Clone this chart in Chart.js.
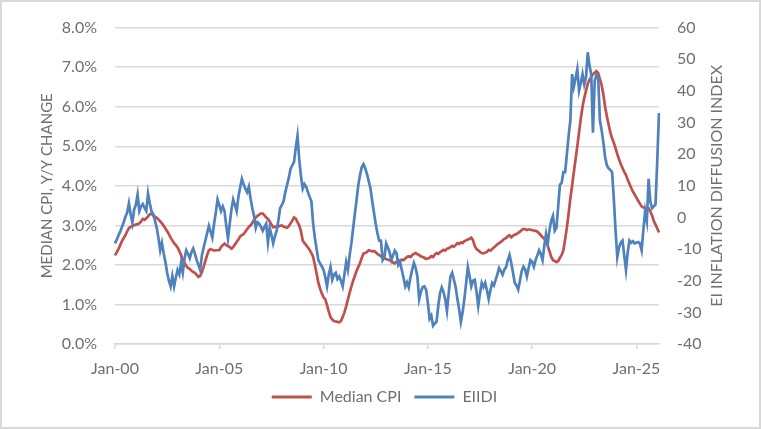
<!DOCTYPE html>
<html>
<head>
<meta charset="utf-8">
<script src="https://cdn.jsdelivr.net/npm/chart.js@4/dist/chart.umd.min.js"></script>
<style>
  html, body { margin: 0; padding: 0; background: #fff; }
  #wrap { position: relative; width: 761px; height: 429px; }
  canvas { display: block; }
</style>
</head>
<body>
<div id="wrap"><canvas id="c" width="761" height="429"></canvas></div>
<script>
// ---- Data (monthly, Jan 2000 – Feb 2026) ----
const years = [];
for (let y = 2000; y <= 2026; y++) years.push(y);
const monthNames = ["Jan","Feb","Mar","Apr","May","Jun","Jul","Aug","Sep","Oct","Nov","Dec"];

// Median CPI, Y/Y change (%)
const medianCPI = [
  2.24,2.32,2.40,2.50,2.60,2.68,2.75,2.85,2.93,2.96,2.98,3.00, // 2000
  3.02,3.03,3.05,3.10,3.16,3.14,3.18,3.22,3.28,3.30,3.25,3.22, // 2001
  3.19,3.15,3.10,3.05,2.99,2.92,2.85,2.78,2.69,2.62,2.55,2.50, // 2002
  2.44,2.35,2.25,2.12,2.05,1.98,1.92,1.90,1.85,1.82,1.80,1.75, // 2003
  1.70,1.72,1.82,1.95,2.10,2.25,2.37,2.40,2.38,2.36,2.37,2.37, // 2004
  2.37,2.45,2.50,2.54,2.50,2.48,2.45,2.41,2.45,2.52,2.58,2.64, // 2005
  2.72,2.75,2.78,2.84,2.90,2.96,3.00,3.06,3.14,3.20,3.24,3.27, // 2006
  3.30,3.30,3.25,3.20,3.16,3.10,3.02,2.95,2.96,2.98,2.97,2.99, // 2007
  3.00,2.97,2.95,2.94,2.98,3.05,3.12,3.20,3.17,3.08,3.00,2.85, // 2008
  2.62,2.55,2.50,2.44,2.38,2.30,2.20,2.00,1.78,1.55,1.40,1.28, // 2009
  1.18,1.13,0.98,0.82,0.68,0.62,0.58,0.57,0.56,0.55,0.58,0.68, // 2010
  0.80,0.95,1.12,1.30,1.45,1.60,1.72,1.85,1.95,2.05,2.18,2.29, // 2011
  2.30,2.33,2.37,2.36,2.34,2.35,2.32,2.28,2.25,2.22,2.18,2.16, // 2012
  2.15,2.13,2.12,2.10,2.06,2.04,2.08,2.12,2.10,2.13,2.12,2.16, // 2013
  2.20,2.22,2.20,2.25,2.28,2.30,2.27,2.25,2.22,2.20,2.18,2.15, // 2014
  2.16,2.18,2.22,2.20,2.26,2.30,2.28,2.32,2.35,2.38,2.36,2.41, // 2015
  2.42,2.45,2.48,2.46,2.50,2.55,2.53,2.57,2.55,2.60,2.62,2.64, // 2016
  2.66,2.69,2.62,2.48,2.40,2.37,2.33,2.30,2.29,2.31,2.33,2.38, // 2017
  2.36,2.40,2.44,2.48,2.52,2.55,2.58,2.62,2.66,2.68,2.72,2.75, // 2018
  2.70,2.74,2.76,2.78,2.81,2.84,2.88,2.91,2.90,2.88,2.90,2.89, // 2019
  2.88,2.87,2.86,2.84,2.80,2.75,2.70,2.66,2.60,2.48,2.35,2.20, // 2020
  2.12,2.10,2.07,2.10,2.18,2.25,2.37,2.65,2.95,3.30,3.68,4.00, // 2021
  4.35,4.67,5.00,5.35,5.70,6.00,6.22,6.40,6.58,6.68,6.75,6.82, // 2022
  6.86,6.90,6.85,6.70,6.55,6.30,6.00,5.76,5.55,5.35,5.20,5.09, // 2023
  4.95,4.80,4.67,4.55,4.45,4.35,4.27,4.15,4.05,3.95,3.85,3.78, // 2024
  3.70,3.62,3.55,3.48,3.45,3.44,3.43,3.43,3.35,3.25,3.11,3.02, // 2025
  2.92,2.82                                                     // 2026
];

// EI Inflation Diffusion Index
const eiidi = [
  -8.2,-7.0,-5.7,-4.5,-3.0,-1.5,0.2,1.5,4.5,1.0,-1.7,2.5,          // 2000
  4.0,7.2,2.0,3.5,4.2,3.0,2.0,7.6,4.5,2.0,1.0,-1.0,                // 2001
  -3.3,-6.5,-10.4,-8.0,-11.3,-14.0,-17.5,-20.0,-21.8,-18.5,-21.8,-19.0, // 2002
  -16.6,-18.0,-14.4,-17.5,-13.0,-10.4,-11.5,-12.9,-11.0,-9.8,-11.5,-13.5, // 2003
  -15.0,-16.6,-12.0,-9.5,-7.3,-5.0,-2.7,-4.5,-6.4,-2.0,1.5,5.7,    // 2004
  4.0,2.0,3.5,2.0,-2.5,-6.7,-2.0,2.5,5.7,4.0,2.0,6.5,              // 2005
  9.5,12.2,10.5,9.1,8.0,9.7,6.0,2.9,0.5,-3.3,-1.5,-2.0,            // 2006
  -3.0,-4.2,-3.0,-2.0,-7.9,-3.3,-5.5,-8.2,-6.0,-4.2,-1.0,2.9,      // 2007
  4.0,5.1,8.0,10.3,12.5,15.3,16.5,17.5,22.0,25.8,18.4,13.0,        // 2008
  9.1,10.5,9.7,8.0,6.5,5.1,-2.0,-6.4,-10.0,-13.5,-14.5,-15.5,      // 2009
  -16.6,-19.0,-21.8,-18.0,-15.7,-19.7,-18.0,-17.5,-19.5,-18.7,-20.0,-21.8, // 2010
  -18.0,-14.1,-16.6,-12.0,-8.2,-3.5,1.1,5.5,10.3,13.5,15.9,16.8,   // 2011
  15.5,13.7,11.5,9.1,5.1,1.5,-2.0,-5.0,-7.3,-7.3,-13.5,-12.6,      // 2012
  -8.2,-9.5,-11.0,-13.5,-12.0,-10.5,-11.3,-15.0,-14.0,-16.6,-19.0,-21.8, // 2013
  -20.5,-22.1,-19.0,-16.5,-14.4,-16.0,-18.7,-25.8,-23.5,-22.0,-21.8,-22.8, // 2014
  -27.0,-32.0,-31.0,-34.2,-33.5,-33.0,-28.0,-24.0,-22.1,-23.5,-25.8,-29.6, // 2015
  -24.0,-18.7,-17.5,-19.7,-22.0,-25.8,-29.0,-33.0,-30.0,-25.8,-21.0,-15.7, // 2016
  -18.5,-21.8,-20.0,-19.7,-23.5,-28.0,-24.0,-20.7,-22.0,-20.7,-23.0,-25.8, // 2017
  -23.0,-20.7,-21.5,-19.7,-18.0,-16.0,-17.0,-18.1,-16.5,-15.7,-13.5,-11.9, // 2018
  -14.4,-17.5,-20.7,-21.5,-22.8,-20.0,-17.0,-15.6,-16.5,-18.7,-16.0,-13.5, // 2019
  -14.0,-15.6,-13.5,-12.0,-10.4,-11.5,-13.5,-9.0,-5.2,-8.2,-4.0,-1.0,      // 2020
  0.5,-4.2,-3.3,3.5,10.3,11.0,14.3,14.3,20.0,25.8,30.7,45.3,               // 2021
  41.3,44.0,46.9,40.1,42.5,45.3,42.0,44.3,52.2,48.0,45.3,26.8,             // 2022
  43.2,45.0,44.3,30.7,27.5,23.7,19.0,16.5,15.5,15.0,14.3,6.0,              // 2023
  -4.0,-12.6,-9.5,-8.0,-7.3,-12.0,-16.6,-11.0,-7.3,-8.0,-7.5,-8.2,         // 2024
  -8.0,-7.8,-8.2,-10.4,-4.0,2.0,-1.1,12.2,5.0,2.9,3.5,4.1,                 // 2025
  18.0,33.0                                                                // 2026
];

// Category labels ("Jan-00" ...)
const monthLabels = [];
for (const y of years) {
  for (const m of monthNames) {
    if (monthLabels.length < medianCPI.length) monthLabels.push(m + "-" + String(y).slice(2));
  }
}
const leftTicks = [0,1,2,3,4,5,6,7,8];
const rightTicks = [-40,-30,-20,-10,0,10,20,30,40,50,60];

const TEXT = '#6f6f6f';
const GRID = '#d9d9d9';
const RED = '#C0504D';
const BLUE = '#4F81BD';
const FONT = 'Lato, "Open Sans", sans-serif';

const frame = {
  id: 'frame',
  beforeDraw(chart) {
    const ctx = chart.ctx;
    ctx.save();
    ctx.fillStyle = '#fff';
    ctx.fillRect(0, 0, chart.width, chart.height);
    ctx.restore();
  },
  afterDraw(chart) {
    const ctx = chart.ctx;
    ctx.save();
    ctx.strokeStyle = GRID;
    ctx.lineWidth = 2;
    ctx.strokeRect(1, 1, chart.width - 2, chart.height - 2);
    // right axis title, reading bottom-to-top
    const a = chart.chartArea;
    ctx.translate(717, (a.top + a.bottom) / 2);
    ctx.rotate(-Math.PI / 2);
    ctx.fillStyle = TEXT;
    ctx.font = '16px ' + FONT;
    ctx.textAlign = 'center';
    ctx.textBaseline = 'middle';
    ctx.fillText('EI INFLATION DIFFUSION INDEX', 0, 0);
    ctx.restore();
  }
};

new Chart(document.getElementById('c'), {
  type: 'line',
  data: {
    labels: monthLabels,
    datasets: [
      { label: 'Median CPI', data: medianCPI, yAxisID: 'y', borderColor: RED, backgroundColor: RED,
        borderWidth: 2.7, pointRadius: 0, tension: 0, order: 1 },
      { label: 'EIIDI', data: eiidi, yAxisID: 'y1', borderColor: BLUE, backgroundColor: BLUE,
        borderWidth: 2.7, pointRadius: 0, tension: 0, order: 0 }
    ]
  },
  options: {
    responsive: false,
    animation: false,
    devicePixelRatio: 1,
    layout: { padding: { left: 30, right: 22, top: 23, bottom: 14 } },
    plugins: {
      tooltip: { enabled: false },
      legend: {
        position: 'bottom',
        labels: {
          color: TEXT,
          font: { family: FONT, size: 16 },
          boxWidth: 40,
          boxHeight: 3,
          padding: 13,
          sort: (a, b) => a.datasetIndex - b.datasetIndex,
          generateLabels: (chart) => Chart.defaults.plugins.legend.labels.generateLabels(chart)
            .map(l => Object.assign(l, { lineWidth: 0 }))
        }
      }
    },
    scales: {
      x: {
        type: 'category',
        afterFit: (s) => { s.height = 32; },
        grid: {
          drawOnChartArea: false,
          drawTicks: true,
          tickLength: 5,
          color: (ctx) => (ctx.index % 60 === 0 ? GRID : 'rgba(0,0,0,0)'),
          lineWidth: 1.5
        },
        border: { color: GRID, width: 1.5 },
        ticks: {
          autoSkip: false,
          maxRotation: 0,
          minRotation: 0,
          padding: 10,
          color: TEXT,
          font: { family: FONT, size: 16 },
          callback: function (v, i) { return i % 60 === 0 ? monthLabels[i] : ''; }
        }
      },
      y: {
        position: 'left',
        min: leftTicks[0],
        max: leftTicks[leftTicks.length - 1],
        afterFit: (s) => { s.width = 85; },
        afterBuildTicks: (s) => { s.ticks = leftTicks.map(v => ({ value: v })); },
        grid: { color: GRID, lineWidth: 1.5, drawTicks: false },
        border: { display: false },
        ticks: {
          padding: 18,
          color: TEXT,
          font: { family: FONT, size: 16 },
          callback: (v) => Number(v).toFixed(1) + '%'
        },
        title: {
          display: true,
          text: 'MEDIAN CPI, Y/Y CHANGE',
          color: TEXT,
          font: { family: FONT, size: 15 },
          padding: { top: 8, bottom: 0 }
        }
      },
      y1: {
        position: 'right',
        min: rightTicks[0],
        max: rightTicks[rightTicks.length - 1],
        afterFit: (s) => { s.width = 80; },
        afterBuildTicks: (s) => { s.ticks = rightTicks.map(v => ({ value: v })); },
        grid: { drawOnChartArea: false, drawTicks: false },
        border: { display: false },
        ticks: {
          padding: 18,
          color: TEXT,
          font: { family: FONT, size: 16 }
        }
      }
    }
  },
  plugins: [frame]
});
</script>
</body>
</html>
